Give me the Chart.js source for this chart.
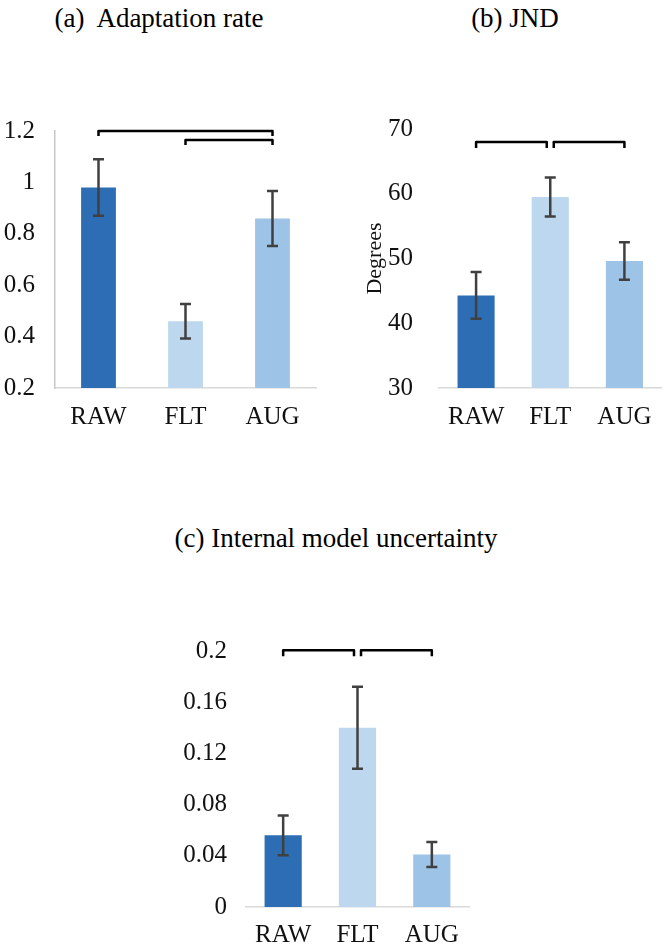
<!DOCTYPE html>
<html lang="en">
<head>
<meta charset="UTF-8">
<title>Adaptation rate, JND, Internal model uncertainty</title>
<script src="https://cdn.jsdelivr.net/npm/chart.js"></script>
<style>
    body { margin: 0; width: 666px; height: 946px; background: #fff; position: relative; overflow: hidden;
           font-family: "Liberation Serif", "Times New Roman", serif; color: #000; }
    .panel { position: absolute; }
    .title { position: absolute; font-size: 27px; white-space: pre; transform: translate(-50%, -50%); }
</style>
</head>
<body>

<div class="title" style="left:159px; top:18px;">(a)  Adaptation rate</div>
<div class="title" style="left:515px; top:18px;">(b) JND</div>
<div class="title" style="left:336px; top:538px;">(c) Internal model uncertainty</div>

<!-- chart tops: y-scale adds label half-height + tick padding above the plot -->
<div class="panel" style="left:0; top:96px; width:330px; height:336px;"><canvas id="chartA"></canvas></div>
<div class="panel" style="left:330px; top:88px; width:336px; height:344px;"><canvas id="chartB"></canvas></div>
<div class="panel" style="left:160px; top:617px; width:320px; height:329px;"><canvas id="chartC"></canvas></div>

<script>
const categories = ['RAW', 'FLT', 'AUG'];
const barColors = ['#2c6db3', '#bdd7ee', '#9dc3e6'];

// (a) adaptation rate
const rateMeans = [0.98, 0.46, 0.86];
const rateErrors = [0.11, 0.067, 0.107];
const rateTicks = [0.2, 0.4, 0.6, 0.8, 1, 1.2];
const rateTickLabels = ['0.2', '0.4', '0.6', '0.8', '1', '1.2'];
const rateBrackets = [[0, 2, 1.2], [1, 2, 1.165]];

// (b) JND
const jndMeans = [44.3, 59.5, 49.6];
const jndErrors = [3.6, 3.0, 2.9];
const jndTicks = [30, 40, 50, 60, 70];
const jndTickLabels = ['30', '40', '50', '60', '70'];
const jndBrackets = [[0, 1, 68], [1, 2, 68]];

// (c) internal model uncertainty
const uncMeans = [0.056, 0.140, 0.041];
const uncErrors = [0.0155, 0.032, 0.0098];
const uncTicks = [0, 0.04, 0.08, 0.12, 0.16, 0.2];
const uncTickLabels = ['0', '0.04', '0.08', '0.12', '0.16', '0.2'];
const uncBrackets = [[0, 1, 0.2005], [1, 2, 0.2005]];

const SERIF = '"Liberation Serif", "Times New Roman", serif';

// error bars + significance brackets
function extrasPlugin(s) {
    return {
        id: 'extras',
        afterDatasetsDraw(chart) {
            const ctx = chart.ctx;
            const x = chart.scales.x, y = chart.scales.y;
            ctx.save();
            ctx.strokeStyle = '#404040';
            ctx.lineWidth = 2.5;
            s.means.forEach((m, i) => {
                const px = x.getPixelForValue(i);
                const top = y.getPixelForValue(m + s.errors[i]);
                const bot = y.getPixelForValue(m - s.errors[i]);
                ctx.beginPath();
                ctx.moveTo(px, top); ctx.lineTo(px, bot);
                ctx.moveTo(px - 5.5, top); ctx.lineTo(px + 5.5, top);
                ctx.moveTo(px - 5.5, bot); ctx.lineTo(px + 5.5, bot);
                ctx.stroke();
            });
            ctx.strokeStyle = '#000';
            ctx.lineJoin = 'round';
            s.brackets.forEach(([a, b, v]) => {
                const x1 = x.getPixelForValue(a) + (a === 1 ? s.gap : 0);
                const x2 = x.getPixelForValue(b) - (b === 1 ? s.gap : 0);
                const py = y.getPixelForValue(v);
                ctx.beginPath();
                ctx.moveTo(x1, py + s.drop);
                ctx.lineTo(x1, py);
                ctx.lineTo(x2, py);
                ctx.lineTo(x2, py + s.drop);
                ctx.stroke();
            });
            ctx.restore();
        }
    };
}

function makeChart(canvasId, s) {
    return new Chart(document.getElementById(canvasId), {
        type: 'bar',
        data: {
            labels: categories,
            datasets: [{
                data: s.means,
                backgroundColor: barColors,
                barPercentage: s.barPct,
                categoryPercentage: 1
            }]
        },
        options: {
            responsive: true,
            maintainAspectRatio: false,
            animation: false,
            layout: { padding: s.padding },
            plugins: { legend: { display: false }, tooltip: { enabled: false } },
            scales: {
                x: {
                    grid: { display: false, drawTicks: false },
                    border: { display: true, color: '#d9d9d9', width: 1.5 },
                    ticks: { color: '#111', padding: s.xPad, font: { family: SERIF, size: 25 } },
                    afterFit: sc => { sc.height = s.xHeight; }
                },
                y: {
                    min: s.ticks[0],
                    max: s.ticks[s.ticks.length - 1],
                    grid: { display: false, drawTicks: false },
                    border: { display: s.yBorder, color: '#c8c8c8', width: 1.5 },
                    ticks: {
                        color: '#111', padding: s.yPad, font: { family: SERIF, size: 25 },
                        callback: (v, i) => s.tickLabels[i]
                    },
                    afterBuildTicks: sc => { sc.ticks = s.ticks.map(v => ({ value: v })); },
                    afterFit: sc => { sc.width = s.yWidth; },
                    title: s.yTitle
                        ? { display: true, text: s.yTitle, color: '#111', padding: { top: 0, bottom: 0 }, font: { family: SERIF, size: 22 } }
                        : { display: false }
                }
            }
        },
        plugins: [extrasPlugin(s)]
    });
}

makeChart('chartA', {
    means: rateMeans, errors: rateErrors, ticks: rateTicks, tickLabels: rateTickLabels, brackets: rateBrackets,
    barPct: 0.4, padding: { top: 0, right: 14, left: 0, bottom: 0 },
    xHeight: 44, xPad: 14, yWidth: 55, yPad: 20, yBorder: true, gap: 0, drop: 5
});

makeChart('chartB', {
    means: jndMeans, errors: jndErrors, ticks: jndTicks, tickLabels: jndTickLabels, brackets: jndBrackets,
    barPct: 0.5, padding: { top: 0, right: 3, left: 32, bottom: 0 },
    xHeight: 44, xPad: 14, yWidth: 77, yPad: 26, yBorder: false, gap: 3.5, drop: 6, yTitle: 'Degrees'
});

makeChart('chartC', {
    means: uncMeans, errors: uncErrors, ticks: uncTicks, tickLabels: uncTickLabels, brackets: uncBrackets,
    barPct: 0.5, padding: { top: 0, right: 11, left: 0, bottom: 0 },
    xHeight: 39, xPad: 13, yWidth: 86, yPad: 19, yBorder: false, gap: 3.5, drop: 6
});
</script>
</body>
</html>
